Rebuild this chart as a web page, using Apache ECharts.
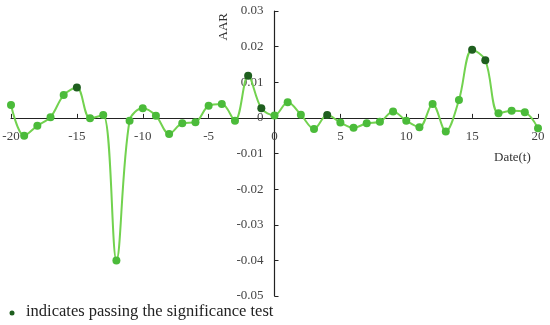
<!DOCTYPE html>
<html lang="en">
<head>
    <meta charset="UTF-8">
    <title>AAR</title>
    <script src="https://cdn.jsdelivr.net/npm/echarts@6/dist/echarts.min.js"></script>
    <style>
        html, body { margin: 0; padding: 0; background: #fff; }
    </style>
</head>
<body>
    <div id="main" style="width:550px;height:325px;"></div>
<script type="text/javascript">
    // event days and average abnormal return
    var days = [-20, -19, -18, -17, -16, -15, -14, -13, -12, -11, -10, -9, -8, -7, -6, -5, -4, -3, -2, -1,
        0, 1, 2, 3, 4, 5, 6, 7, 8, 9, 10, 11, 12, 13, 14, 15, 16, 17, 18, 19, 20];
    var aar = [0.0036, -0.005, -0.0022, 0.0002, 0.0064, 0.0085, -0.0001, 0.0008, -0.040, -0.0008,
        0.0027, 0.0006, -0.0045, -0.0015, -0.0012, 0.0034, 0.0039, -0.0008, 0.0118, 0.0027,
        0.0007, 0.0044, 0.0009, -0.0031, 0.0008, -0.0013, -0.0028, -0.0015, -0.0011, 0.0018,
        -0.0008, -0.0026, 0.0039, -0.0038, 0.005, 0.0191, 0.0162, 0.0013, 0.002, 0.0016, -0.0029];
    // days that pass the significance test
    var significant = [-15, -2, -1, 4, 15, 16];

    var font = 'Liberation Serif';
    var myChart = echarts.init(document.getElementById('main'));

    // grid in pixels, axes moved onto the zero lines with offset
    var gl = 11, gr = 12, gt = 11, gb = 29;
    var gw = 550 - gl - gr, gh = 325 - gt - gb;
    var xOff = -(gh * 0.05 / 0.08);   // x axis up to y = 0
    var yOff = -(gw * 20 / 40);       // y axis right to x = 0

    var option = {
        animation: false,
        grid: { left: gl, right: gr, top: gt, bottom: gb, outerBoundsMode: 'none', containLabel: false },
        xAxis: {
            type: 'value',
            min: -20,
            max: 20,
            interval: 5,
            offset: xOff,
            splitLine: { show: false },
            axisLine: { onZero: false, lineStyle: { color: '#222', width: 1.2 } },
            axisTick: { inside: true, length: 4, lineStyle: { color: '#222' } },
            axisLabel: { color: '#444', fontFamily: font, fontSize: 13, margin: 12 }
        },
        yAxis: {
            type: 'value',
            min: -0.05,
            max: 0.03,
            interval: 0.01,
            offset: yOff,
            splitLine: { show: false },
            axisLine: { onZero: false, lineStyle: { color: '#222', width: 1.2 } },
            axisTick: { inside: true, length: 4, lineStyle: { color: '#222' } },
            axisLabel: {
                color: '#444', fontFamily: font, fontSize: 13, margin: 11,
                formatter: function (v) { return Math.abs(v) < 1e-9 ? '0' : v.toFixed(2); }
            }
        },
        graphic: [
            { type: 'text', left: 217, top: 13, rotation: Math.PI / 2,
              style: { text: 'AAR', fill: '#333', font: '13px ' + font } },
            { type: 'text', left: 494, top: 151,
              style: { text: 'Date(t)', fill: '#333', font: '13px ' + font } },
            { type: 'circle', shape: { cx: 12, cy: 313, r: 2.5 }, style: { fill: '#1e5e1e' } },
            { type: 'text', left: 26, top: 303,
              style: { text: 'indicates passing the significance test', fill: '#222', font: '16.5px ' + font } }
        ],
        series: [{
            type: 'line',
            smooth: 0.35,
            symbol: 'circle',
            symbolSize: 8,
            lineStyle: { color: '#72d24f', width: 2 },
            itemStyle: {
                color: function (p) {
                    return significant.indexOf(p.data[0]) >= 0 ? '#1f5f1f' : '#4bbb3a';
                }
            },
            data: days.map(function (d, i) { return [d, aar[i]]; })
        }]
    };
    myChart.setOption(option);
</script>
</body>
</html>
